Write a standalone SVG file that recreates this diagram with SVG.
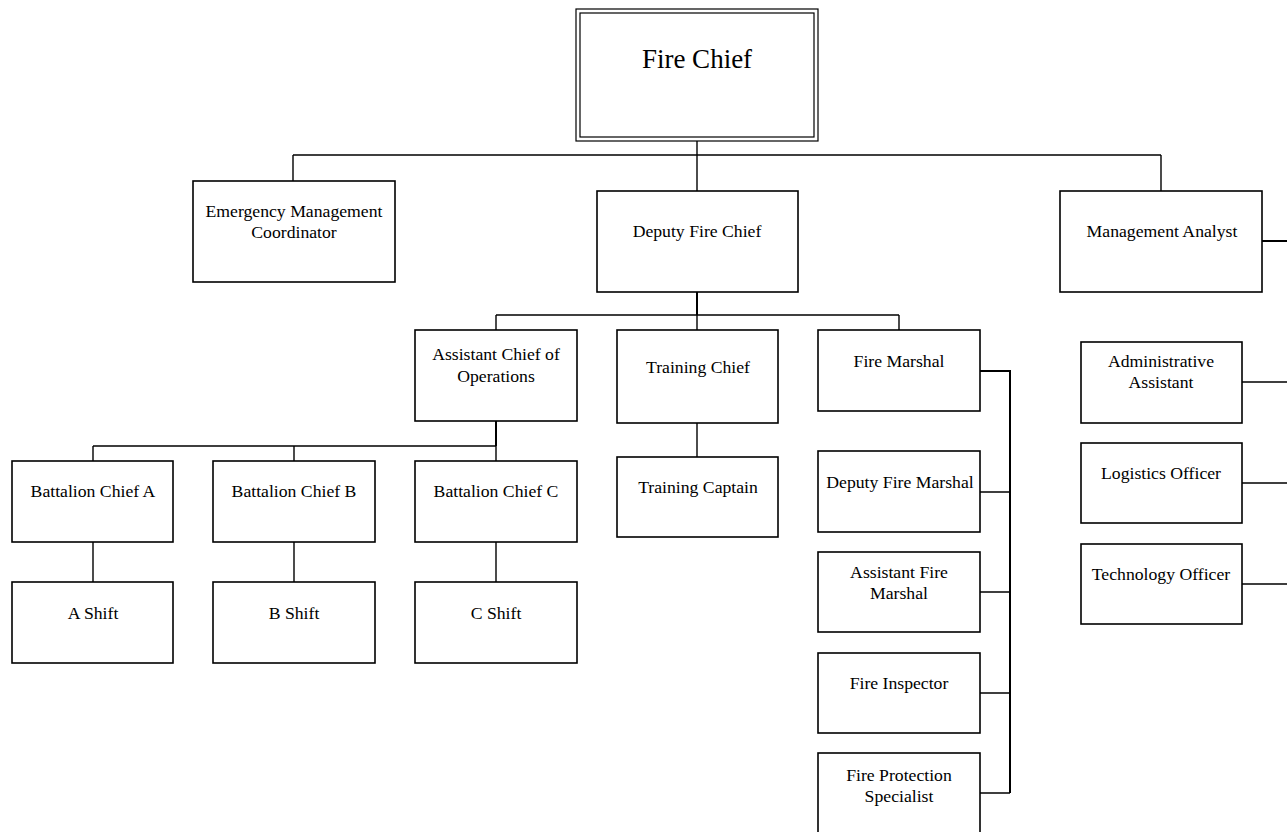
<svg xmlns="http://www.w3.org/2000/svg" width="1287" height="832" viewBox="0 0 1287 832">
<style>
.box{fill:#fff;stroke:#000;stroke-width:1.6}
.thin{fill:none;stroke:#000;stroke-width:1.2}
.ln{fill:none;stroke:#000;stroke-width:1.4}
.thk{fill:none;stroke:#000;stroke-width:2}
text{font-family:"Liberation Serif","Times New Roman",serif;font-size:17.7px;fill:#000;text-anchor:middle}
.big{font-size:27px}
</style>
<rect width="1287" height="832" fill="#fff"/>
<g id="connectors">
<path class="ln" d="M697 141V192"/>
<path class="ln" d="M293 155H1161M293 155V181M1161 155V191"/>
<path class="thk" d="M697 292V315"/>
<path class="ln" d="M496 315H899M496 315V330M697 315V330M899 315V330"/>
<path class="thk" d="M496 421V446"/>
<path class="ln" d="M93 446H496M93 446V461M294 446V461M496 446V461"/>
<path class="ln" d="M93 542V582M294 542V582M496 542V582"/>
<path class="ln" d="M697 423V457"/>
<path class="thk" d="M980 371H1010V793"/>
<path class="ln" d="M980 492H1010M980 592H1010M980 693H1010M980 793H1010"/>
<path class="thk" d="M1262 241H1287"/>
<path class="ln" d="M1242 382H1287M1242 483H1287M1242 584H1287"/>
</g>
<g id="fire-chief">
<rect class="thin" x="576" y="9" width="242" height="132" fill="#fff"/>
<rect class="thin" x="580" y="13" width="234" height="124"/>
<text class="big" x="697" y="68">Fire Chief</text>
</g>
<g id="emergency-management-coordinator">
<rect class="box" x="193" y="181" width="202" height="101"/>
<text x="294" y="217">Emergency Management</text>
<text x="294" y="237.5">Coordinator</text>
</g>
<g id="deputy-fire-chief">
<rect class="box" x="597" y="191" width="201" height="101"/>
<text x="697" y="237">Deputy Fire Chief</text>
</g>
<g id="management-analyst">
<rect class="box" x="1060" y="191" width="202" height="101"/>
<text x="1162" y="237">Management Analyst</text>
</g>
<g id="assistant-chief-of-operations">
<rect class="box" x="415" y="330" width="162" height="91"/>
<text x="496" y="360">Assistant Chief of</text>
<text x="496" y="381.5">Operations</text>
</g>
<g id="training-chief">
<rect class="box" x="617" y="330" width="161" height="93"/>
<text x="698" y="372.5">Training Chief</text>
</g>
<g id="fire-marshal">
<rect class="box" x="818" y="330" width="162" height="81"/>
<text x="899" y="366.5">Fire Marshal</text>
</g>
<g id="administrative-assistant">
<rect class="box" x="1081" y="342" width="161" height="81"/>
<text x="1161" y="367">Administrative</text>
<text x="1161" y="388">Assistant</text>
</g>
<g id="battalion-chief-a">
<rect class="box" x="12" y="461" width="161" height="81"/>
<text x="93" y="497">Battalion Chief A</text>
</g>
<g id="battalion-chief-b">
<rect class="box" x="213" y="461" width="162" height="81"/>
<text x="294" y="497">Battalion Chief B</text>
</g>
<g id="battalion-chief-c">
<rect class="box" x="415" y="461" width="162" height="81"/>
<text x="496" y="497">Battalion Chief C</text>
</g>
<g id="training-captain">
<rect class="box" x="617" y="457" width="161" height="80"/>
<text x="698" y="493">Training Captain</text>
</g>
<g id="deputy-fire-marshal">
<rect class="box" x="818" y="451" width="162" height="81"/>
<text x="900" y="487.5">Deputy Fire Marshal</text>
</g>
<g id="logistics-officer">
<rect class="box" x="1081" y="443" width="161" height="80"/>
<text x="1161" y="479">Logistics Officer</text>
</g>
<g id="technology-officer">
<rect class="box" x="1081" y="544" width="161" height="80"/>
<text x="1161" y="580">Technology Officer</text>
</g>
<g id="assistant-fire-marshal">
<rect class="box" x="818" y="552" width="162" height="80"/>
<text x="899" y="577.5">Assistant Fire</text>
<text x="899" y="599">Marshal</text>
</g>
<g id="a-shift">
<rect class="box" x="12" y="582" width="161" height="81"/>
<text x="93" y="619">A Shift</text>
</g>
<g id="b-shift">
<rect class="box" x="213" y="582" width="162" height="81"/>
<text x="294" y="619">B Shift</text>
</g>
<g id="c-shift">
<rect class="box" x="415" y="582" width="162" height="81"/>
<text x="496" y="619">C Shift</text>
</g>
<g id="fire-inspector">
<rect class="box" x="818" y="653" width="162" height="80"/>
<text x="899" y="689">Fire Inspector</text>
</g>
<g id="fire-protection-specialist">
<rect class="box" x="818" y="753" width="162" height="90"/>
<text x="899" y="780.5">Fire Protection</text>
<text x="899" y="801.5">Specialist</text>
</g>
</svg>
